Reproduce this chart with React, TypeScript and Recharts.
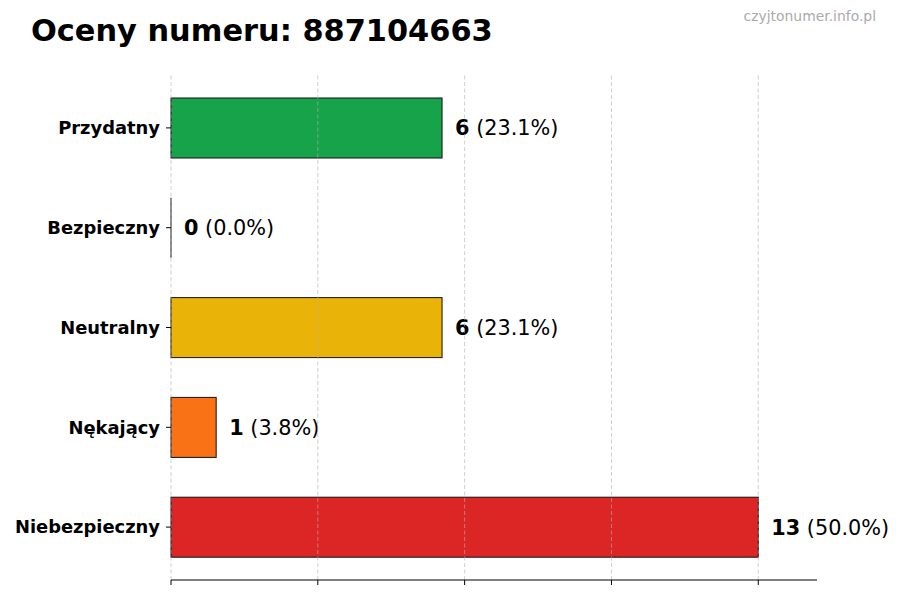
import React from 'react';
import { BarChart, Bar, XAxis, YAxis, ReferenceLine, Cell } from 'recharts';

const categories = ['Przydatny', 'Bezpieczny', 'Neutralny', 'Nękający', 'Niebezpieczny'];
const counts = [6, 0, 6, 1, 13];
const xTicks = [0, 3.25, 6.5, 9.75, 13];
const xMax = 14.3;
const titleText = 'Oceny numeru: 887104663';
const watermarkText = 'czyjtonumer.info.pl';

const COLORS = ['#16a34a', '#3b82f6', '#eab308', '#f97316', '#dc2626'];
const FONT = '"DejaVu Sans", sans-serif';

const total = counts.reduce((a, b) => a + b, 0);
const data = categories.map((name, i) => ({ name, value: counts[i] }));

const BarShape = (props: any) => {
  const { x, y, width, height, fill, payload } = props;
  const w = Math.max(0, Number(width) || 0);
  const v = payload.value as number;
  const pct = ((v / total) * 100).toFixed(1);
  return (
    <g>
      {w > 0 ? (
        <rect x={x} y={y} width={w} height={height} fill={fill} stroke="#111111" strokeWidth={1} />
      ) : (
        <line x1={x} x2={x} y1={y} y2={y + height} stroke="#111111" strokeWidth={1} />
      )}
      <text
        x={x + w + 13}
        y={y + height / 2}
        dy="0.36em"
        fontSize={20.8}
        fontFamily={FONT}
        fill="#000"
        style={{ whiteSpace: 'pre' }}
      >
        <tspan fontWeight="bold">{String(v)}</tspan>
        <tspan>{` (${pct}%)`}</tspan>
      </text>
    </g>
  );
};

const EmptyTick = () => <g />;

export default function App() {
  return (
    <div style={{ position: 'absolute', left: 0, top: 0, width: 900, height: 600, background: '#fff' }}>
      <BarChart
        width={900}
        height={600}
        data={data}
        layout="vertical"
        margin={{ top: 75, right: 83, bottom: 0, left: 11 }}
      >
        <XAxis
          type="number"
          domain={[0, xMax]}
          ticks={xTicks}
          height={20}
          tick={EmptyTick}
          tickSize={5}
          stroke="#000"
          axisLine={{ stroke: '#000', strokeWidth: 1 }}
          tickLine={{ stroke: '#000', strokeWidth: 1 }}
        />
        <YAxis
          type="category"
          dataKey="name"
          width={160}
          padding={{ top: 3, bottom: 3 }}
          axisLine={false}
          tickSize={5}
          tickMargin={6}
          stroke="#000"
          tickLine={{ stroke: '#000', strokeWidth: 1 }}
          tick={{ fill: '#000', fontSize: 17.9, fontWeight: 'bold', fontFamily: FONT }}
        />
        <Bar dataKey="value" barSize={60} isAnimationActive={false} shape={BarShape}>
          {data.map((d, i) => (
            <Cell key={d.name} fill={COLORS[i]} />
          ))}
        </Bar>
        {xTicks.map((t) => (
          <ReferenceLine
            key={t}
            x={t}
            stroke="#b0b0b0"
            strokeOpacity={0.6}
            strokeWidth={1}
            strokeDasharray="4 2.5"
          />
        ))}
      </BarChart>
      <svg
        width={900}
        height={600}
        style={{ position: 'absolute', left: 0, top: 0, pointerEvents: 'none' }}
      >
        <text x={31} y={41} fontSize={30.4} fontWeight="bold" fontFamily={FONT} fill="#000">
          {titleText}
        </text>
        <text x={876} y={21} fontSize={13.9} fontFamily={FONT} fill="#aaaaaa" textAnchor="end">
          {watermarkText}
        </text>
      </svg>
    </div>
  );
}
